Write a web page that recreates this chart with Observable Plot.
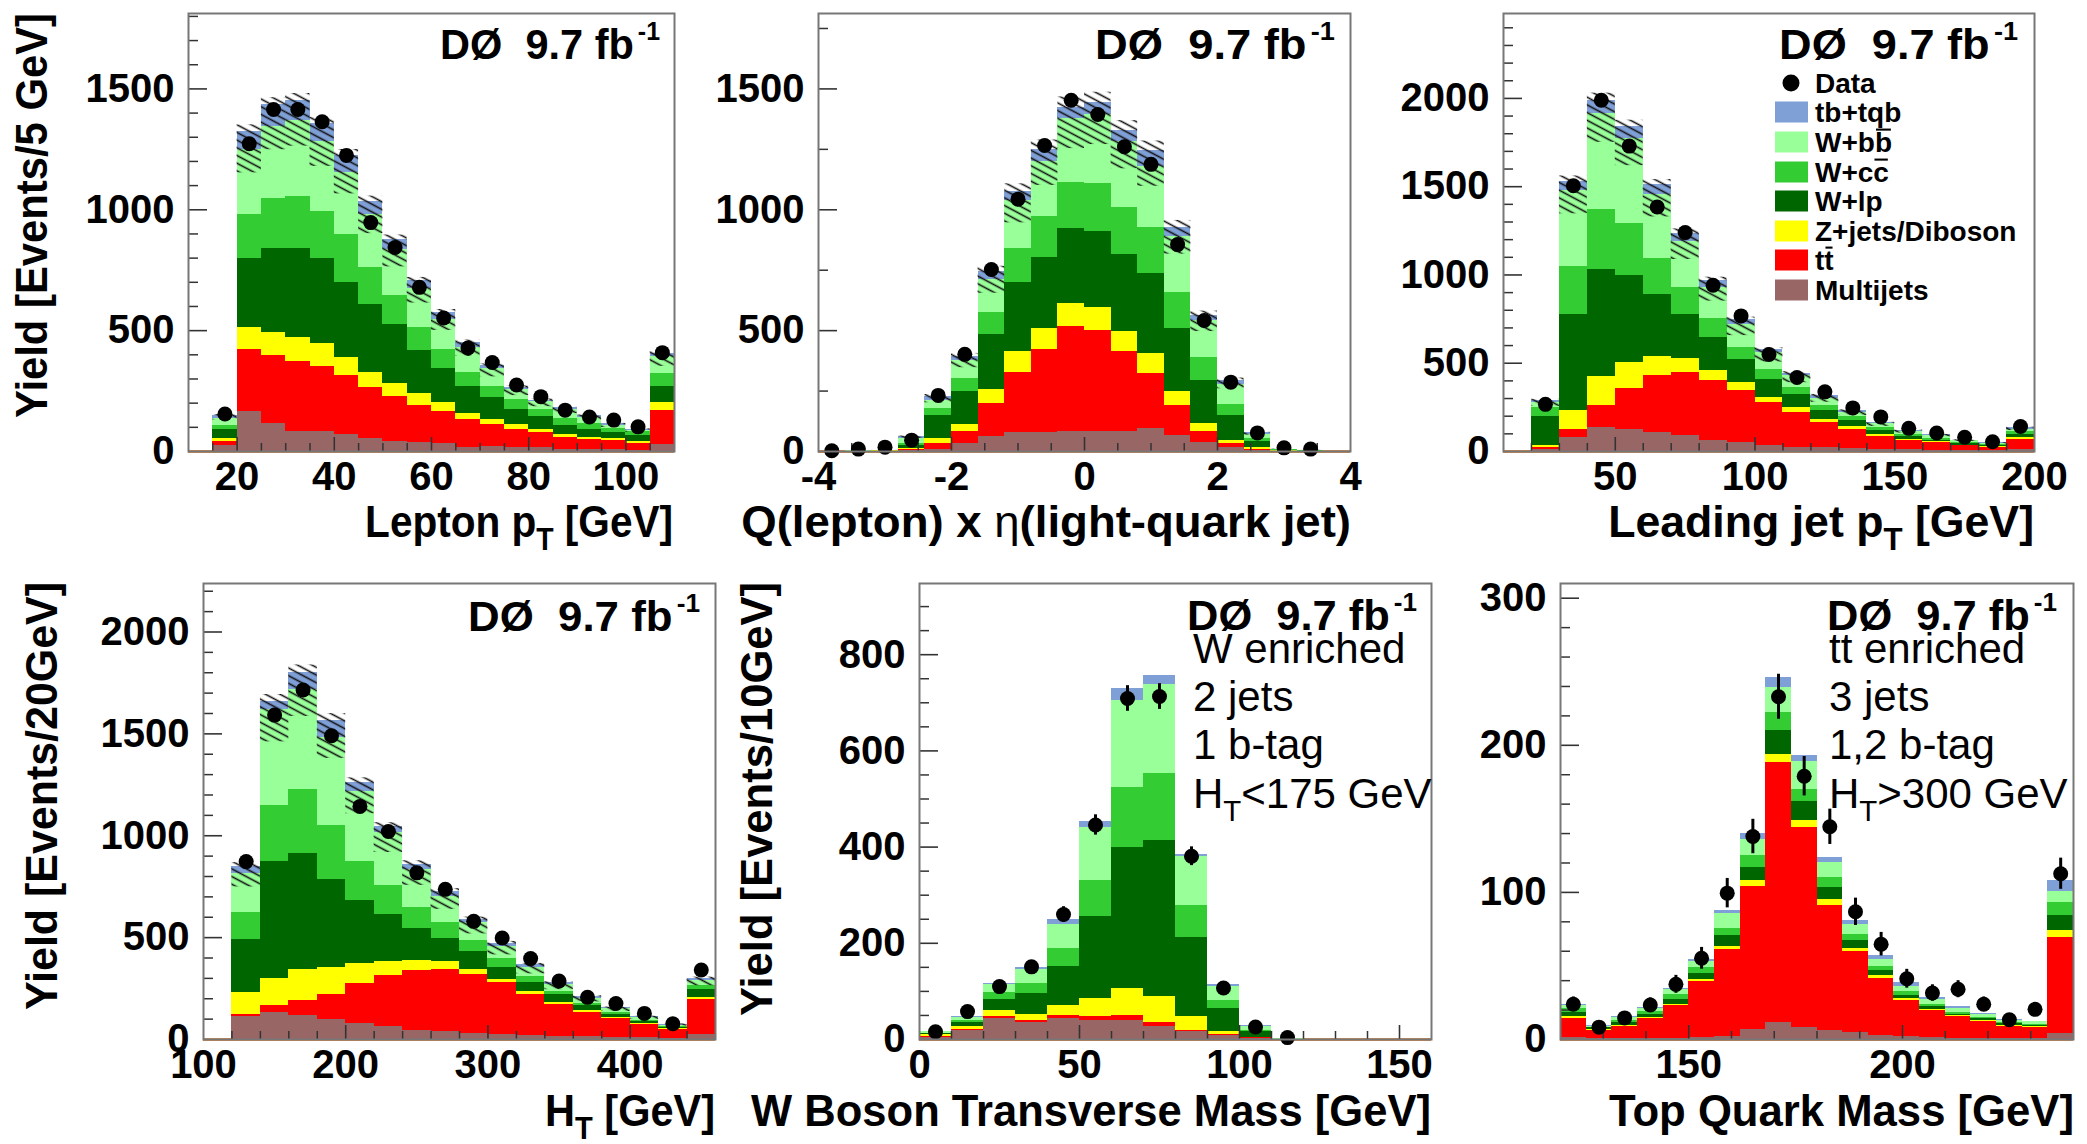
<!DOCTYPE html>
<html>
<head>
<meta charset="utf-8">
<script src="https://cdn.jsdelivr.net/npm/d3@7"></script>
<script src="https://cdn.jsdelivr.net/npm/@observablehq/plot@0.6"></script>
<style>
  html, body { margin: 0; padding: 0; background: #fff; }
  #root { position: relative; width: 2087px; height: 1144px; overflow: hidden; background: #fff; }
</style>
</head>
<body>
<svg width="0" height="0" style="position:absolute;left:0;top:0">
  <defs>
    <pattern id="hatch" patternUnits="userSpaceOnUse" width="8" height="6.8" patternTransform="rotate(28)">
      <line x1="-1" y1="3.4" x2="9" y2="3.4" stroke="#111" stroke-width="1.6"></line>
    </pattern>
  </defs>
</svg>
<div id="root"></div>
<script>
const FONT = "'Liberation Sans', Arial, Helvetica, sans-serif";

// ---------- processes (stack drawn from total down to bottom layer) ----------
const processKeys   = ["tb", "wbb", "wcc", "wlp", "zjets", "ttbar", "multijets"];
const processColors = ["#7f9fd7", "#99ff99", "#33cc33", "#006600", "#ffff00", "#ff0000", "#996666"];

// All stack arrays below are cumulative stack heights (top edge of each layer), per bin.

// ---------- Panel 1: Lepton pT, 5 GeV bins ----------
const lepPt_binLow    = [15,20,25,30,35,40,45,50,55,60,65,70,75,80,85,90,95,100,105];
const lepPt_multijets = [25,165,114,84,81,69,55,43,37,32,18,21,15,15,10,10,9,6,28];
const lepPt_ttbar     = [40,421,397,372,350,313,264,227,190,165,131,111,92,77,59,50,44,32,170];
const lepPt_zjets     = [55,514,493,473,445,390,328,281,239,202,158,133,111,92,71,59,52,43,202];
const lepPt_wlp       = [92,800,841,841,800,699,610,527,417,343,269,225,173,143,109,92,77,65,269];
const lepPt_wcc       = [109,979,1047,1053,991,896,761,644,514,424,328,269,217,173,136,114,96,84,321];
const lepPt_wbb       = [136,1250,1346,1369,1284,1153,981,837,675,548,431,343,258,206,172,141,108,87,395];
const lepPt_tb        = [150,1325,1435,1452,1356,1225,1036,878,706,576,452,355,266,213,180,148,114,92,405];
const lepPt_data      = [155,1273,1415,1415,1364,1225,947,844,679,552,428,368,275,227,171,143,130,102,409];

// ---------- Panel 2: Q(lepton) x eta(light-quark jet), 0.4 bins ----------
const qEta_binLow    = [-4,-3.6,-3.2,-2.8,-2.4,-2,-1.6,-1.2,-0.8,-0.4,0,0.4,0.8,1.2,1.6,2,2.4,2.8,3.2,3.6];
const qEta_multijets = [0,0,1,6,10,32,62,77,80,84,84,84,95,65,37,15,6,1,0,0];
const qEta_ttbar     = [0,1,2,10,32,81,198,328,420,516,502,412,323,192,84,32,10,2,1,0];
const qEta_zjets     = [0,1,3,12,55,111,257,412,508,611,594,498,406,247,114,47,15,3,1,0];
const qEta_wlp       = [1,2,4,25,148,250,483,700,804,922,911,815,737,508,295,151,40,6,2,0];
const qEta_wcc       = [1,2,5,35,176,301,576,838,973,1111,1108,1010,926,656,387,195,55,8,3,1];
const qEta_wbb       = [1,3,6,55,210,378,712,1040,1200,1377,1395,1281,1177,889,542,276,69,9,4,1];
const qEta_tb        = [1,3,6,62,229,394,744,1075,1251,1424,1443,1329,1247,928,564,295,77,10,5,1];
const qEta_data      = [3,10,18,47,232,402,753,1044,1266,1453,1394,1261,1188,856,542,287,77,15,10,null];

// ---------- Panel 3: Leading jet pT, 10 GeV bins ----------
const jetPt_binLow    = [20,30,40,50,60,70,80,90,100,110,120,130,140,150,160,170,180,190];
const jetPt_multijets = [14,81,135,125,109,89,61,51,34,24,20,18,14,10,8,6,6,10];
const jetPt_ttbar     = [24,125,261,358,429,449,402,348,277,220,166,125,85,61,49,32,24,69];
const jetPt_zjets     = [34,231,423,506,536,524,459,392,307,247,182,140,95,69,55,36,28,77];
const jetPt_wlp       = [196,777,1031,999,890,777,645,520,408,321,231,176,119,85,65,44,34,95];
const jetPt_wcc       = [247,1050,1369,1294,1092,928,756,590,465,364,263,196,135,99,75,53,38,111];
const jetPt_wbb       = [280,1480,1915,1775,1455,1190,930,722,560,429,303,222,156,113,89,61,44,125];
const jetPt_tb        = [290,1530,1990,1840,1510,1236,968,746,576,443,317,231,162,119,95,65,49,135];
const jetPt_data      = [267,1505,1990,1730,1385,1240,942,768,550,419,338,247,196,131,105,81,55,142];

// ---------- Panel 4: HT, 20 GeV bins ----------
const ht_binLow    = [120,140,160,180,200,220,240,260,280,300,320,340,360,380,400,420,440];
const ht_multijets = [115,134,119,97,77,64,46,37,31,24,18,15,13,9,9,7,23];
const ht_ttbar     = [122,168,192,223,274,315,339,342,317,278,223,174,134,101,73,51,194];
const ht_zjets     = [229,298,344,351,375,384,390,381,342,296,234,183,141,106,77,55,208];
const ht_wlp       = [489,873,915,787,683,613,543,498,434,353,280,220,165,123,88,60,247];
const ht_wcc       = [622,1149,1226,1052,873,754,650,576,485,397,311,238,179,134,95,64,265];
const ht_wbb       = [814,1620,1720,1482,1217,1016,833,704,573,457,353,269,201,150,106,71,292];
const ht_tb        = [851,1660,1802,1568,1259,1043,860,726,589,472,366,278,210,156,112,75,300];
const ht_data      = [873,1592,1715,1491,1144,1021,818,737,580,498,397,287,207,177,128,77,341];

// ---------- Panel 5: W boson transverse mass, 10 GeV bins ----------
const mtw_binLow    = [0,10,20,30,40,50,60,70,80,90,100,110,120,130,140,150];
const mtw_multijets = [5,19,44,35,43,39,40,27,16,8,3,0,0,0,0,0];
const mtw_ttbar     = [7,21,47,39,49,47,50,35,18,10,4,0,0,0,0,0];
const mtw_zjets     = [10,27,60,53,71,85,105,89,47,16,5,1,0,0,0,0];
const mtw_wlp       = [12,35,83,95,151,256,399,413,213,64,16,1,0,0,0,0];
const mtw_wcc       = [13,39,97,116,190,331,523,553,279,81,19,1,0,0,0,0];
const mtw_wbb       = [16,45,114,146,240,440,705,739,380,111,27,2,0,0,0,0];
const mtw_tb        = [17,47,116,150,250,453,729,757,385,115,29,2,0,0,0,0];
const mtw_data      = [16,58,110,151,260,446,709,713,381,107,26,4,null,null,null,null];
const mtw_err       = [4,7.6,10.5,12.3,16.1,21.1,26.6,26.7,19.5,10.3,5.1,2,0,0,0,0];

// ---------- Panel 6: Top quark mass, 6 GeV bins ----------
const mtop_binLow    = [120,126,132,138,144,150,156,162,168,174,180,186,192,198,204,210,216,222,228,234];
const mtop_multijets = [1.5,1,1,1,1,1.3,2,7,11.6,8.4,5.8,4.8,2.8,1.8,1.3,1,0.8,0.8,0.8,4.3];
const mtop_ttbar     = [14,6,9,14,22.8,39.5,61.5,104,188,144,91.4,60,41.8,26.6,19.7,15.4,12.2,9,8.4,69.6];
const mtop_zjets     = [15.4,7,9.6,14.7,24,40.8,63.5,108,194,149,95,62,43.3,27.6,20.5,16,12.7,9.6,8.9,74];
const mtop_wlp       = [18.5,8,11.4,17.2,27.3,45,70.4,117,210,162,103,67,46.8,30,22.3,17.2,14,10.6,9.6,84.3];
const mtop_wcc       = [21,8.4,12.7,19,30.4,48.9,75.4,125,222,170,110,71.6,49.6,32.4,24,18.5,15,11.4,10.4,93];
const mtop_wbb       = [23,9,14.7,21,33.7,53.2,85.6,136,239,189,120,78,54.7,36.2,27.3,21,17.2,13,11.9,100.8];
const mtop_tb        = [24,9.4,15.4,21.8,35,54.4,88,140,246,193,124,81,57,38.7,28.6,22.3,18,13.4,12.4,108];
const mtop_data      = [24,8.4,14.7,23.5,37.5,55.2,99.5,138,233,179,144.6,86.8,64.8,41.3,31.6,34.2,24,13.4,20.5,112.7];
const mtop_err       = [4.9,2.9,3.8,4.8,6.1,7.4,10,11.7,15.3,13.4,12,9.3,8,6.4,5.6,5.8,4.9,3.7,4.5,10.6];

// ---------- tick values ----------
const lepPt_xTicks = [20,40,60,80,100],   lepPt_yTicks = [0,500,1000,1500];
const qEta_xTicks  = [-4,-2,0,2,4],       qEta_yTicks  = [0,500,1000,1500];
const jetPt_xTicks = [50,100,150,200],    jetPt_yTicks = [0,500,1000,1500,2000];
const ht_xTicks    = [100,200,300,400],   ht_yTicks    = [0,500,1000,1500,2000];
const mtw_xTicks   = [0,50,100,150],      mtw_yTicks   = [0,200,400,600,800];
const mtop_xTicks  = [150,200],           mtop_yTicks  = [0,100,200,300];

const panels = [
  {frame:[188,13,674,451], xDomain:[10,110], yDomain:[0,1812], binLow:lepPt_binLow, binWidth:5,
   stack:{multijets:lepPt_multijets, ttbar:lepPt_ttbar, zjets:lepPt_zjets, wlp:lepPt_wlp, wcc:lepPt_wcc, wbb:lepPt_wbb, tb:lepPt_tb},
   data:lepPt_data, band:[0.87,1.02], xTicks:lepPt_xTicks, yTicks:lepPt_yTicks, xMinor:[10,110,5], yMinor:100},
  {frame:[818,13,1350,451], xDomain:[-4,4], yDomain:[0,1812], binLow:qEta_binLow, binWidth:0.4,
   stack:{multijets:qEta_multijets, ttbar:qEta_ttbar, zjets:qEta_zjets, wlp:qEta_wlp, wcc:qEta_wcc, wbb:qEta_wbb, tb:qEta_tb},
   data:qEta_data, band:[0.88,1.03], xTicks:qEta_xTicks, yTicks:qEta_yTicks, xMinor:[-4,4,0.5], yMinor:250},
  {frame:[1503,13,2034,451], xDomain:[10,200], yDomain:[0,2481], binLow:jetPt_binLow, binWidth:10,
   stack:{multijets:jetPt_multijets, ttbar:jetPt_ttbar, zjets:jetPt_zjets, wlp:jetPt_wlp, wcc:jetPt_wcc, wbb:jetPt_wbb, tb:jetPt_tb},
   data:jetPt_data, band:[0.88,1.02], xTicks:jetPt_xTicks, yTicks:jetPt_yTicks, xMinor:[20,200,10], yMinor:100},
  {frame:[203,583,715,1039], xDomain:[100,460], yDomain:[0,2238], binLow:ht_binLow, binWidth:20,
   stack:{multijets:ht_multijets, ttbar:ht_ttbar, zjets:ht_zjets, wlp:ht_wlp, wcc:ht_wcc, wbb:ht_wbb, tb:ht_tb},
   data:ht_data, band:[0.88,1.02], xTicks:ht_xTicks, yTicks:ht_yTicks, xMinor:[100,460,20], yMinor:100},
  {frame:[919,583,1431,1039], xDomain:[0,160], yDomain:[0,948], binLow:mtw_binLow, binWidth:10,
   stack:{multijets:mtw_multijets, ttbar:mtw_ttbar, zjets:mtw_zjets, wlp:mtw_wlp, wcc:mtw_wcc, wbb:mtw_wbb, tb:mtw_tb},
   data:mtw_data, err:mtw_err, xTicks:mtw_xTicks, yTicks:mtw_yTicks, xMinor:[0,160,10], yMinor:50},
  {frame:[1560,583,2073,1039], xDomain:[120,240], yDomain:[0,310], binLow:mtop_binLow, binWidth:6,
   stack:{multijets:mtop_multijets, ttbar:mtop_ttbar, zjets:mtop_zjets, wlp:mtop_wlp, wcc:mtop_wcc, wbb:mtop_wbb, tb:mtop_tb},
   data:mtop_data, err:mtop_err, xTicks:mtop_xTicks, yTicks:mtop_yTicks, xMinor:[130,240,10], yMinor:20}
];

const root = document.getElementById("root");

function drawPanel(p) {
  const [fx0, fy0, fx1, fy1] = p.frame;
  const fw = fx1 - fx0, fh = fy1 - fy0;
  const mL = 140, mR = 8, mT = 8, mB = 70;
  const rows = p.binLow.map((lo, i) => ({i, lo, hi: lo + p.binWidth, c: lo + p.binWidth / 2}));
  const withData = rows.filter(d => p.data[d.i] != null);
  const eps = 1e-9;
  const yMinorTicks = d3.range(p.yDomain[0] + p.yMinor, p.yDomain[1], p.yMinor)
    .filter(v => !p.yTicks.some(t => Math.abs(t - v) < eps));
  const xMinorTicks = d3.range(p.xMinor[0], p.xMinor[1] + eps, p.xMinor[2])
    .filter(v => v > p.xDomain[0] + eps && v < p.xDomain[1] - eps && !p.xTicks.some(t => Math.abs(t - v) < eps));
  const yMajorIn = p.yTicks.filter(v => v > p.yDomain[0]);
  const xMajorIn = p.xTicks.filter(v => v > p.xDomain[0] + eps && v < p.xDomain[1] - eps);

  const marks = [];
  marks.push(Plot.ruleY([0], {stroke: "#cc6611", strokeWidth: 2.5}));
  processKeys.forEach((k, j) => {
    const arr = p.stack[k];
    marks.push(Plot.rect(rows, {x1: "lo", x2: "hi", y1: 0, y2: d => arr[d.i], fill: processColors[j], shapeRendering: "crispEdges"}));
  });
  if (p.band) {
    const tot = p.stack.tb;
    marks.push(Plot.rect(rows, {x1: "lo", x2: "hi", y1: d => tot[d.i] * p.band[0], y2: d => tot[d.i] * p.band[1], fill: "url(#hatch)"}));
  }
  marks.push(Plot.tickY(yMinorTicks, {y: d => d, insetRight: fw - 10, stroke: "#333", strokeWidth: 1.5}));
  marks.push(Plot.tickY(yMajorIn, {y: d => d, insetRight: fw - 19, stroke: "#333", strokeWidth: 1.6}));
  marks.push(Plot.tickX(xMinorTicks, {x: d => d, insetTop: fh - 8, stroke: "#333", strokeWidth: 1.5}));
  marks.push(Plot.tickX(xMajorIn, {x: d => d, insetTop: fh - 14, stroke: "#333", strokeWidth: 1.6}));
  marks.push(Plot.axisY(p.yTicks, {tickSize: 0, tickPadding: 14, tickFormat: d => String(d), label: null}));
  marks.push(Plot.axisX(p.xTicks, {tickSize: 0, tickPadding: 10, tickFormat: d => String(d), label: null}));
  if (p.err) {
    marks.push(Plot.ruleX(withData, {x: "c", y1: d => p.data[d.i] - p.err[d.i], y2: d => p.data[d.i] + p.err[d.i], stroke: "black", strokeWidth: 3}));
  }
  marks.push(Plot.dot(withData, {x: "c", y: d => p.data[d.i], r: 7.5, fill: "black", stroke: "none"}));
  marks.push(Plot.frame({stroke: "#777", strokeWidth: 2}));

  const svg = Plot.plot({
    width: fw + mL + mR, height: fh + mT + mB,
    marginLeft: mL, marginRight: mR, marginTop: mT, marginBottom: mB,
    x: {domain: p.xDomain}, y: {domain: p.yDomain},
    style: {fontFamily: FONT, fontSize: "40px", fontWeight: "bold", background: "transparent", overflow: "visible", color: "black"},
    marks
  });
  svg.style.position = "absolute";
  svg.style.left = (fx0 - mL) + "px";
  svg.style.top = (fy0 - mT) + "px";
  svg.style.maxWidth = "none";
  root.appendChild(svg);
}
panels.forEach(drawPanel);

// ---------- text overlay ----------
const ov = d3.select(root).append("svg")
  .attr("width", 2087).attr("height", 1144)
  .style("position", "absolute").style("left", "0px").style("top", "0px")
  .style("overflow", "visible").style("pointer-events", "none")
  .attr("font-family", FONT);

function richText(segments, o) {
  const size = o.size, weight = o.weight || "bold";
  const g = ov.append("g");
  const text = g.append("text")
    .attr("font-size", size).attr("font-weight", weight)
    .attr("text-anchor", o.anchor || "start").attr("fill", "black")
    .style("white-space", "pre");
  let shift = 0;
  const overSpans = [];
  for (const s of segments) {
    const span = text.append("tspan").text(s.t);
    let target = 0, fsz = size;
    if (s.sub) { target = size * 0.3; fsz = size * 0.7; }
    if (s.sup) { target = -size * 0.45; fsz = size * 0.6; }
    span.attr("font-size", fsz).attr("dy", target - shift);
    shift = target;
    if (s.over) overSpans.push(span);
    if (s.weight) span.attr("font-weight", s.weight);
    if (s.dx) span.attr("dx", s.dx);
  }
  // bar over a character (e.g. anti-quark), drawn just above the letters
  overSpans.forEach(span => {
    const b = span.node().getBBox();
    g.append("line")
      .attr("x1", b.x + size * 0.04).attr("x2", b.x + b.width - size * 0.04)
      .attr("y1", -size * 0.8).attr("y2", -size * 0.8)
      .attr("stroke", "black").attr("stroke-width", Math.max(1.5, size * 0.075));
  });
  let sx = 1;
  if (o.width) {
    const w = text.node().getBBox().width;
    if (w > 0) sx = o.width / w;
  }
  g.attr("transform", `translate(${o.x},${o.y})` + (o.rotate ? " rotate(-90)" : "") + ` scale(${sx},1)`);
  return g;
}

// axis titles
const xTitles = [
  {seg: [{t: "Lepton p"}, {t: "T", sub: true}, {t: " [GeV]"}], x: 673, y: 537, width: 308},
  {seg: [{t: "Q(lepton) x "}, {t: "η", weight: "normal"}, {t: "(light-quark jet)"}], x: 1351, y: 537, width: 610},
  {seg: [{t: "Leading jet p"}, {t: "T", sub: true}, {t: " [GeV]"}], x: 2034, y: 537, width: 426},
  {seg: [{t: "H"}, {t: "T", sub: true}, {t: " [GeV]"}], x: 715, y: 1126, width: 170},
  {seg: [{t: "W Boson Transverse Mass [GeV]"}], x: 1431, y: 1126, width: 680},
  {seg: [{t: "Top Quark Mass [GeV]"}], x: 2074, y: 1126, width: 465}
];
xTitles.forEach(d => richText(d.seg, {x: d.x, y: d.y, size: 44, anchor: "end", width: d.width}));

const yTitles = [
  {t: "Yield [Events/5 GeV]", x: 47, y: 13, width: 405},
  {t: "Yield [Events/20GeV]", x: 57, y: 582, width: 428},
  {t: "Yield [Events/10GeV]", x: 772, y: 582, width: 434}
];
yTitles.forEach(d => richText([{t: d.t}], {x: d.x, y: d.y, size: 44, anchor: "end", width: d.width, rotate: true}));

// experiment labels
const lumiLabels = [
  {x: 660, y: 59, width: 220}, {x: 1335, y: 59, width: 240}, {x: 2018, y: 59, width: 239},
  {x: 700, y: 631, width: 232}, {x: 1417, y: 630, width: 230}, {x: 2057, y: 630, width: 230}
];
lumiLabels.forEach(d => richText([{t: "DØ  9.7 fb"}, {t: "-1", sup: true, dx: 4}], {x: d.x, y: d.y, size: 42, anchor: "end", width: d.width}));

// selection annotations
const wLines = [[{t: "W enriched"}], [{t: "2 jets"}], [{t: "1 b-tag"}], [{t: "H"}, {t: "T", sub: true}, {t: "<175 GeV"}]];
const tLines = [[{t: "tt enriched"}], [{t: "3 jets"}], [{t: "1,2 b-tag"}], [{t: "H"}, {t: "T", sub: true}, {t: ">300 GeV"}]];
const annotY = [663, 711, 759, 808];
wLines.forEach((seg, i) => richText(seg, {x: 1193, y: annotY[i], size: 42, weight: "normal"}));
tLines.forEach((seg, i) => richText(seg, {x: 1829, y: annotY[i], size: 42, weight: "normal"}));

// legend (panel 3)
const legendLabels = [
  [{t: "tb+tqb"}],
  [{t: "W+b"}, {t: "b", over: true}],
  [{t: "W+c"}, {t: "c", over: true}],
  [{t: "W+lp"}],
  [{t: "Z+jets/Diboson"}],
  [{t: "t"}, {t: "t", over: true}],
  [{t: "Multijets"}]
];
const legendY = [112, 142, 172, 201, 231, 260, 290];
const legendColors = ["#7f9fd7", "#99ff99", "#33cc33", "#006600", "#ffff00", "#ff0000", "#996666"];
ov.append("circle").attr("cx", 1791).attr("cy", 83).attr("r", 8.5).attr("fill", "black");
richText([{t: "Data"}], {x: 1815, y: 83 + 10, size: 28});
legendLabels.forEach((seg, i) => {
  ov.append("rect").attr("x", 1775).attr("y", legendY[i] - 10.5).attr("width", 33).attr("height", 21)
    .attr("fill", legendColors[i]);
  richText(seg, {x: 1815, y: legendY[i] + 10, size: 28});
});
</script>
</body>
</html>
